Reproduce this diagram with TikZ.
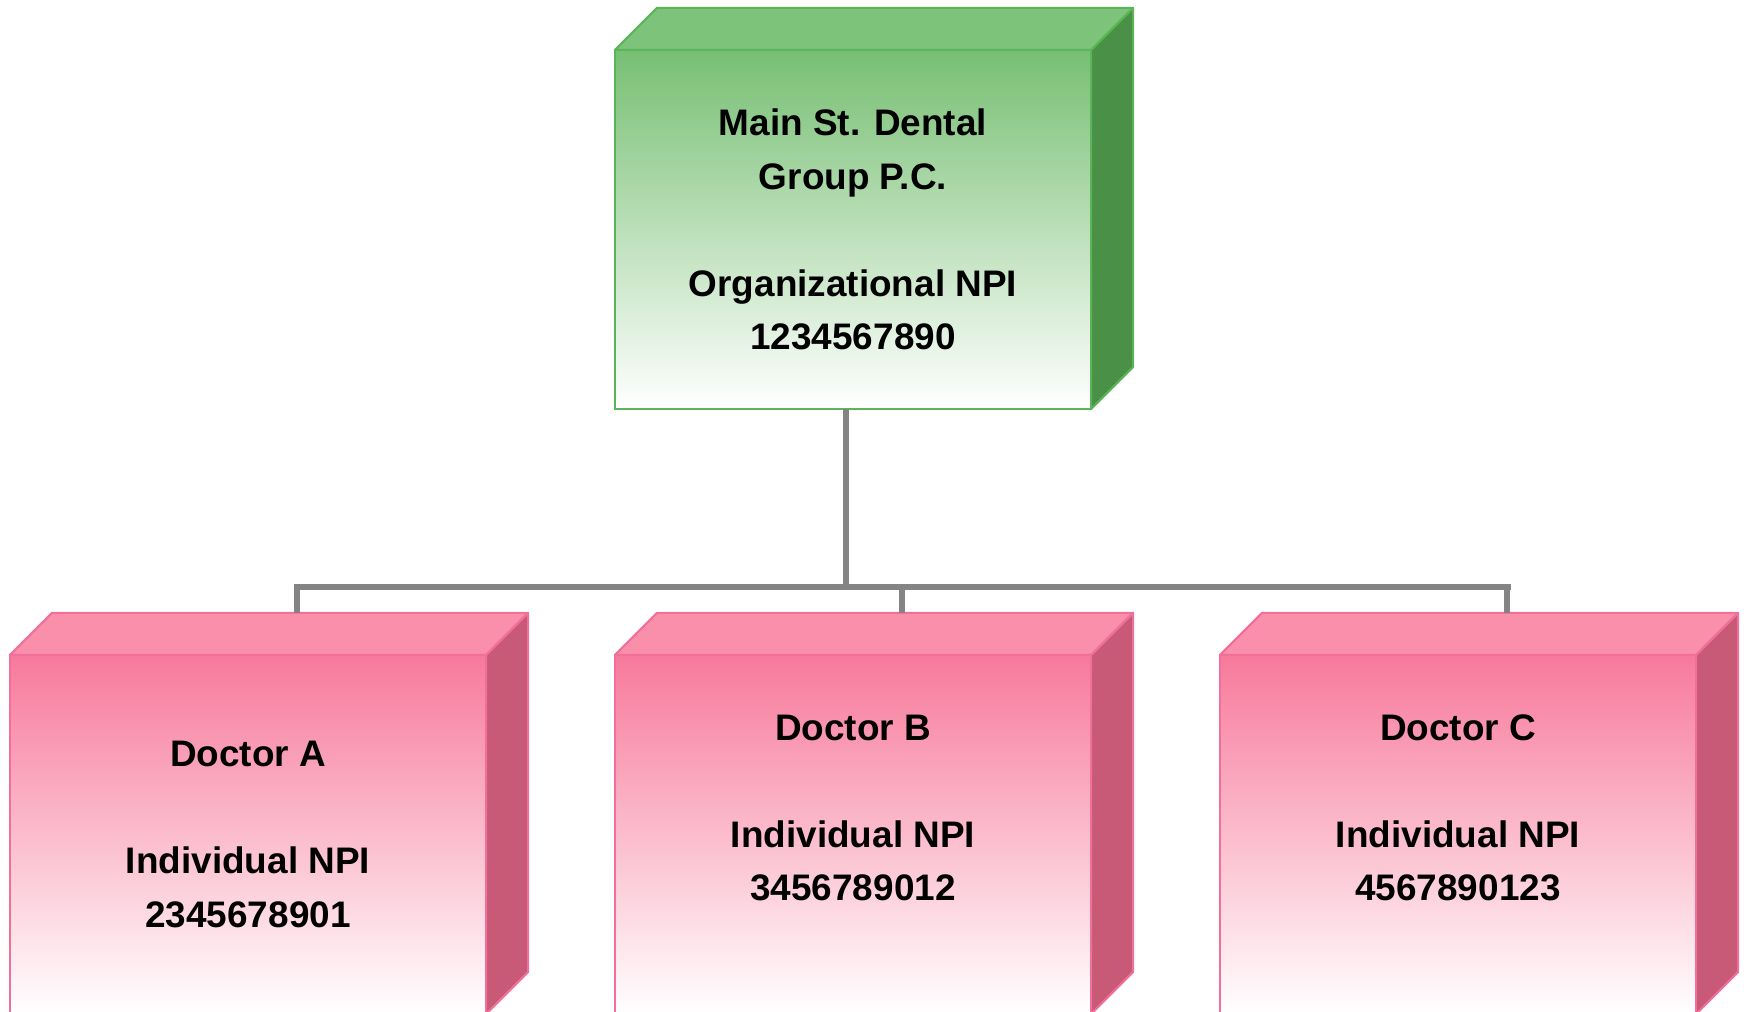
\documentclass[tikz,border=0pt]{standalone}
\usepackage{fontspec}
\setmainfont{Liberation Sans}
\usepackage{xcolor}
\usetikzlibrary{positioning}

\definecolor{grnfront}{HTML}{77BF73}
\definecolor{grntop}{HTML}{7DC47A}
\definecolor{grnside}{HTML}{4A9046}
\definecolor{grnline}{HTML}{5CB459}
\definecolor{pnkfront}{HTML}{F7799B}
\definecolor{pnktop}{HTML}{F98FAA}
\definecolor{pnkside}{HTML}{C85A78}
\definecolor{pnkline}{HTML}{F0709A}
\definecolor{linkgray}{HTML}{848484}

\begin{document}
\begin{tikzpicture}[x=0.01cm, y=-0.01cm,
        front/.style={rectangle, minimum width=4.76cm, minimum height=3.59cm, inner sep=0pt, outer sep=0pt, line width=0.6pt, align=center, font=\fontsize{10.5}{15.2}\selectfont\bfseries},
        orgbox/.style={front, draw=grnline, top color=grnfront, bottom color=white},
        docbox/.style={front, draw=pnkline, top color=pnkfront, bottom color=white},
        face/.style={line width=0.6pt, line join=round},
        link/.style={draw=linkgray, line width=1.7pt}
    ]
        \useasboundingbox (0,0) rectangle (1744,1012);

        % Boxes
        \node[orgbox] (org) at (853,229.5) {Main St. Dental\\Group P.C.\\[15.2pt]Organizational NPI\\1234567890};

        \node[docbox] (docA) at (248,834.5) {Doctor A\\[15.2pt]Individual NPI\\2345678901};
        \node[docbox] (docB) at (853,834.5) {Doctor B\\[15.2pt]Individual NPI\\3456789012\\\mbox{}};
        \node[docbox] (docC) at (1458,834.5) {Doctor C\\[15.2pt]Individual NPI\\4567890123\\\mbox{}};

        % Connectors
        \coordinate (busA) at (297,587);
        \coordinate (busC) at (1508,587);
        \draw[link] ([xshift=-0.07cm]org.south) -- ([xshift=-0.07cm]org.south |- busA);
        \draw[link, line cap=rect] (busA) -- (busC);

        % Depth faces
        \filldraw[face, fill=grntop, draw=grnline] (org.north west) -- ++(42,-42) -- ++(476,0) -- (org.north east) -- cycle;
        \filldraw[face, fill=grnside, draw=grnline] (org.north east) -- ++(42,-42) -- ++(0,359) -- (org.south east) -- cycle;
        \foreach \n in {docA,docB,docC} {
            \filldraw[face, fill=pnktop, draw=pnkline] (\n.north west) -- ++(42,-42) -- ++(476,0) -- (\n.north east) -- cycle;
            \filldraw[face, fill=pnkside, draw=pnkline] (\n.north east) -- ++(42,-42) -- ++(0,359) -- (\n.south east) -- cycle;
            \draw[link] ([xshift=0.49cm,yshift=0.42cm]\n.north) -- ([xshift=0.49cm]\n.north |- busA);
        }
    \end{tikzpicture}
\end{document}
